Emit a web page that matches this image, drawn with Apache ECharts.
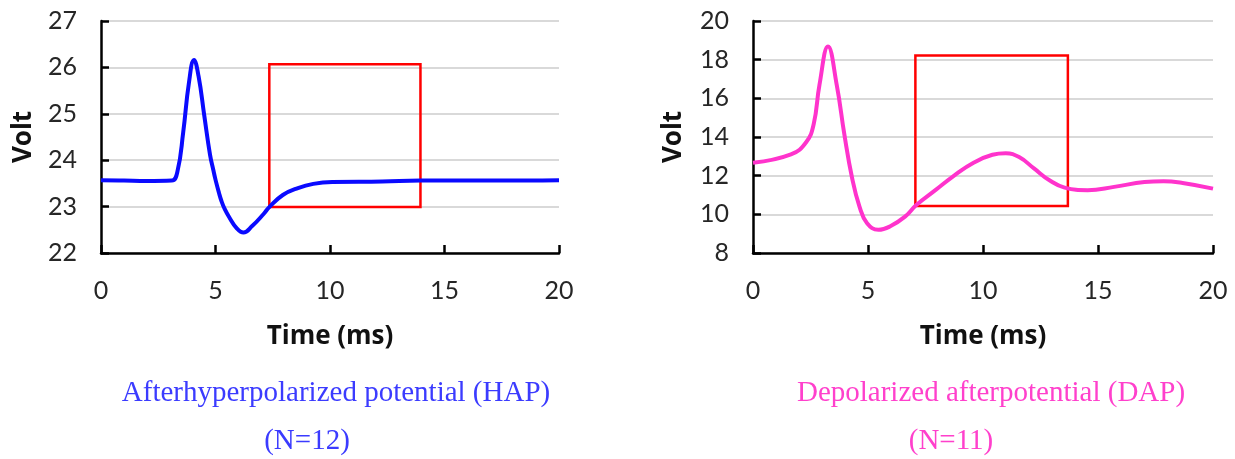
<!DOCTYPE html>
<html>
<head>
<meta charset="utf-8">
<script src="https://cdn.jsdelivr.net/npm/echarts@6/dist/echarts.min.js"></script>
<style>
html, body { margin: 0; padding: 0; background: #fff; }
#main { width: 1235px; height: 459px; }
</style>
</head>
<body>
<div id="main"></div>
<script>
// HAP trace (ms, volt)
var hapTime = [0, 1, 2, 3.09, 3.34, 3.59, 3.84, 4.06, 4.26, 4.51, 4.76, 4.9, 5.01, 5.15, 5.26, 5.4, 5.6, 5.93, 6.22, 6.6, 7.1, 7.35, 7.94, 8.6, 9.27, 10.1, 12.28, 13.95, 17.3, 20];
var hapVolt = [23.57, 23.56, 23.55, 23.56, 23.76, 24.6, 25.67, 26.16, 25.81, 24.96, 24.12, 23.8, 23.56, 23.3, 23.12, 22.95, 22.77, 22.53, 22.44, 22.58, 22.84, 22.99, 23.25, 23.4, 23.49, 23.53, 23.54, 23.56, 23.56, 23.57];
// DAP trace (ms, volt)
var dapTime = [0, 1.65, 2.31, 2.64, 2.89, 3.26, 3.64, 3.97, 4.3, 4.63, 4.96, 5.45, 5.95, 6.61, 7.1, 7.93, 8.76, 9.59, 10.41, 10.99, 11.57, 12.23, 12.89, 13.55, 14.55, 15.7, 17.02, 17.85, 18.68, 20];
var dapVolt = [12.67, 13.1, 13.73, 14.67, 16.7, 18.68, 16.7, 14.15, 11.93, 10.4, 9.54, 9.2, 9.37, 9.88, 10.48, 11.25, 12.02, 12.67, 13.08, 13.16, 12.96, 12.36, 11.76, 11.38, 11.25, 11.42, 11.67, 11.71, 11.62, 11.33];
// highlighted windows [x0, y0, x1, y1]
var hapBox = [7.35, 22.99, 13.95, 26.07];
var dapBox = [7.06, 10.43, 13.69, 18.22];

var hapCaption = ['Afterhyperpolarized potential (HAP)', '(N=12)'];
var dapCaption = ['Depolarized afterpotential (DAP)', '(N=11)'];

function pairs(xs, ys) {
    return xs.map(function (x, i) { return [x, ys[i]]; });
}

var labelFont = { fontFamily: 'Lato', fontSize: 25, color: '#262626' };
var nameFont = { fontFamily: 'Open Sans', fontWeight: 'bold', fontSize: 26, color: '#111' };

function xAxis(idx) {
    return {
        gridIndex: idx, type: 'value', min: 0, max: 20, interval: 5,
        name: 'Time (ms)', nameLocation: 'middle', nameGap: 71,
        nameTextStyle: nameFont,
        axisLine: { lineStyle: { color: '#000', width: 2.5 } },
        axisTick: { show: true, inside: true, length: 8, lineStyle: { color: '#000', width: 2.5 } },
        axisLabel: Object.assign({ margin: 25 }, labelFont),
        splitLine: { show: false }
    };
}
function yAxis(idx, min, max, step, gap) {
    return {
        gridIndex: idx, type: 'value', min: min, max: max, interval: step,
        name: 'Volt', nameLocation: 'middle', nameGap: gap, nameRotate: 90,
        nameTextStyle: nameFont,
        axisLine: { show: true, lineStyle: { color: '#000', width: 2.5 } },
        axisTick: { show: true, inside: true, length: 8, lineStyle: { color: '#000', width: 2.5 } },
        axisLabel: Object.assign({ margin: 24 }, labelFont),
        splitLine: { show: true, lineStyle: { color: '#d9d9d9', width: 2 } }
    };
}
function boxArea(b) {
    return {
        silent: true,
        itemStyle: { color: 'rgba(0,0,0,0)', borderColor: '#ff0000', borderWidth: 2.5 },
        data: [[{ coord: [b[0], b[1]] }, { coord: [b[2], b[3]] }]]
    };
}
function caption(text, x, y, color) {
    return {
        type: 'text', x: x, y: y,
        style: { text: text, fill: color, font: '29px "Liberation Serif"', textAlign: 'center', textVerticalAlign: 'middle' }
    };
}

var myChart = echarts.init(document.getElementById('main'));
var option = {
    animation: false,
    grid: [
        { left: 101, top: 21, width: 458, height: 232 },
        { left: 753, top: 21, width: 460, height: 232 }
    ],
    xAxis: [xAxis(0), xAxis(1)],
    yAxis: [yAxis(0, 22, 27, 1, 64), yAxis(1, 8, 20, 2, 66)],
    series: [
        {
            type: 'line', xAxisIndex: 0, yAxisIndex: 0, smooth: 0.45, showSymbol: false,
            data: pairs(hapTime, hapVolt),
            lineStyle: { color: '#0a0aff', width: 4 },
            markArea: boxArea(hapBox)
        },
        {
            type: 'line', xAxisIndex: 1, yAxisIndex: 1, smooth: 0.45, showSymbol: false,
            data: pairs(dapTime, dapVolt),
            lineStyle: { color: '#ff33cc', width: 4 },
            markArea: boxArea(dapBox)
        }
    ],
    graphic: [
        caption(hapCaption[0], 336, 393, '#3b3bff'),
        caption(hapCaption[1], 307, 441, '#3b3bff'),
        caption(dapCaption[0], 991, 393, '#ff40cc'),
        caption(dapCaption[1], 951, 441, '#ff40cc')
    ]
};
myChart.setOption(option);
</script>
</body>
</html>
